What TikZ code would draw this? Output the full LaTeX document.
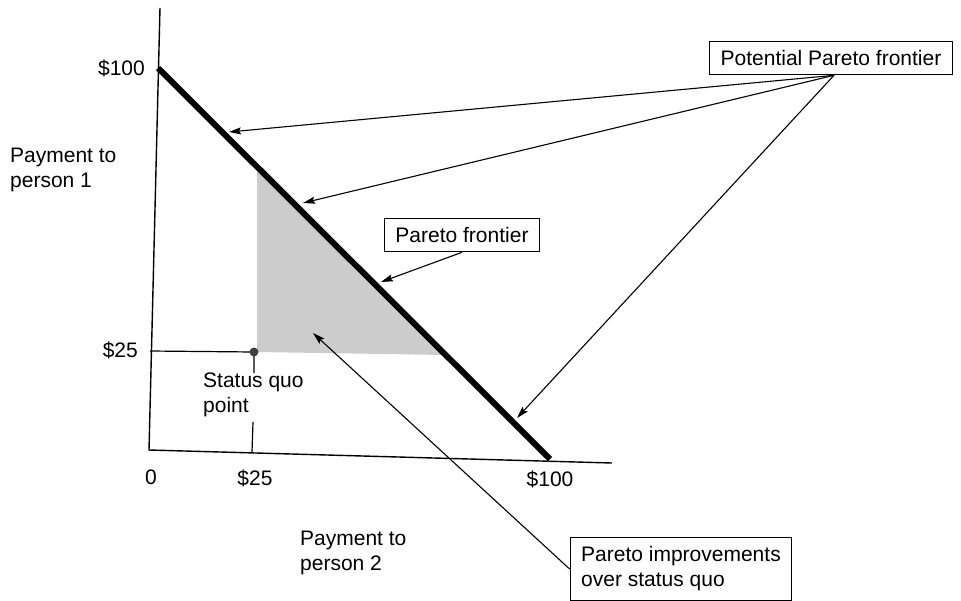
\documentclass[tikz,border=0pt]{standalone}
\usepackage{fontspec}
\setmainfont{Liberation Sans}
\usetikzlibrary{arrows.meta,positioning,calc}

\tikzset{
  lbl/.style={font=\fontsize{21}{25}\selectfont, inner sep=0pt},
  callout/.style={draw, line width=1.2pt, fill=white, font=\fontsize{21}{25}\selectfont,
    inner xsep=11pt, inner ysep=9pt, align=left},
  pointer/.style={-{Stealth[length=12pt,width=7pt,inset=2pt]}, line width=1.1pt},
}

\begin{document}
\begin{tikzpicture}[x=1pt,y=-1pt]
  \useasboundingbox (0,0) rectangle (961,600);

  % Axes
  \coordinate (O) at (149,450);
  \coordinate (ytop) at (160,8);
  \coordinate (xend) at (612,463);
  \draw[line width=1.4pt] (ytop) -- (O) -- (xend);

  % Pareto improvements (shaded)
  \fill[black!20] (257,168) -- (257,352) -- (446,355) -- cycle;

  % Potential Pareto frontier
  \coordinate (A) at (158,68);
  \coordinate (B) at (550,459);
  \draw[line width=6pt] (A) -- (B);

  % Status quo
  \coordinate (sq) at (254,352);
  \coordinate (sqy) at (150,351);
  \coordinate (sqd) at (254,373);
  \coordinate (sqx1) at (253,422);
  \coordinate (sqx2) at (252,452);
  \draw[line width=1.2pt] (sqy) -- (sq) -- (sqd);
  \draw[line width=1.2pt] (sqx1) -- (sqx2);
  \fill[black!75] (sq) circle (4.5pt);

  % Axis labels
  \node[lbl, anchor=east] (y100) at (145,68) {\$100};
  \node[lbl, anchor=east] (y25) at (138,350) {\$25};
  \node[lbl, align=left, anchor=west] (ylab) at (10,170) {Payment to\\person 1};
  \node[lbl] (x0) at (151,477) {0};
  \node[lbl] (x25) at (255,478) {\$25};
  \node[lbl] (x100) at (550,479) {\$100};
  \node[lbl, align=left, anchor=west] (xlab) at (300,553) {Payment to\\person 2};
  \node[lbl, align=left, anchor=west] (sqlab) at (203,395) {Status quo\\point};

  % Callouts
  \node[callout] (pot) at (831,58) {Potential Pareto frontier};
  \node[callout] (front) at (462,235) {Pareto frontier};
  \node[callout] (impr) at (681,569) {Pareto improvements\\over status quo};

  \coordinate (t1) at (229,132);
  \coordinate (t2) at (303,203);
  \coordinate (t3) at (517,418);
  \coordinate (tf) at (381,282);
  \coordinate (ti) at (313,333);

  \draw[pointer] ($(pot.south)+(3,0)$) -- (t1);
  \draw[pointer] ($(pot.south)+(3,0)$) -- (t2);
  \draw[pointer] ($(pot.south)+(3,0)$) -- (t3);
  \draw[pointer] (front.south) -- (tf);
  \draw[pointer] (impr.west) -- (ti);
\end{tikzpicture}
\end{document}
